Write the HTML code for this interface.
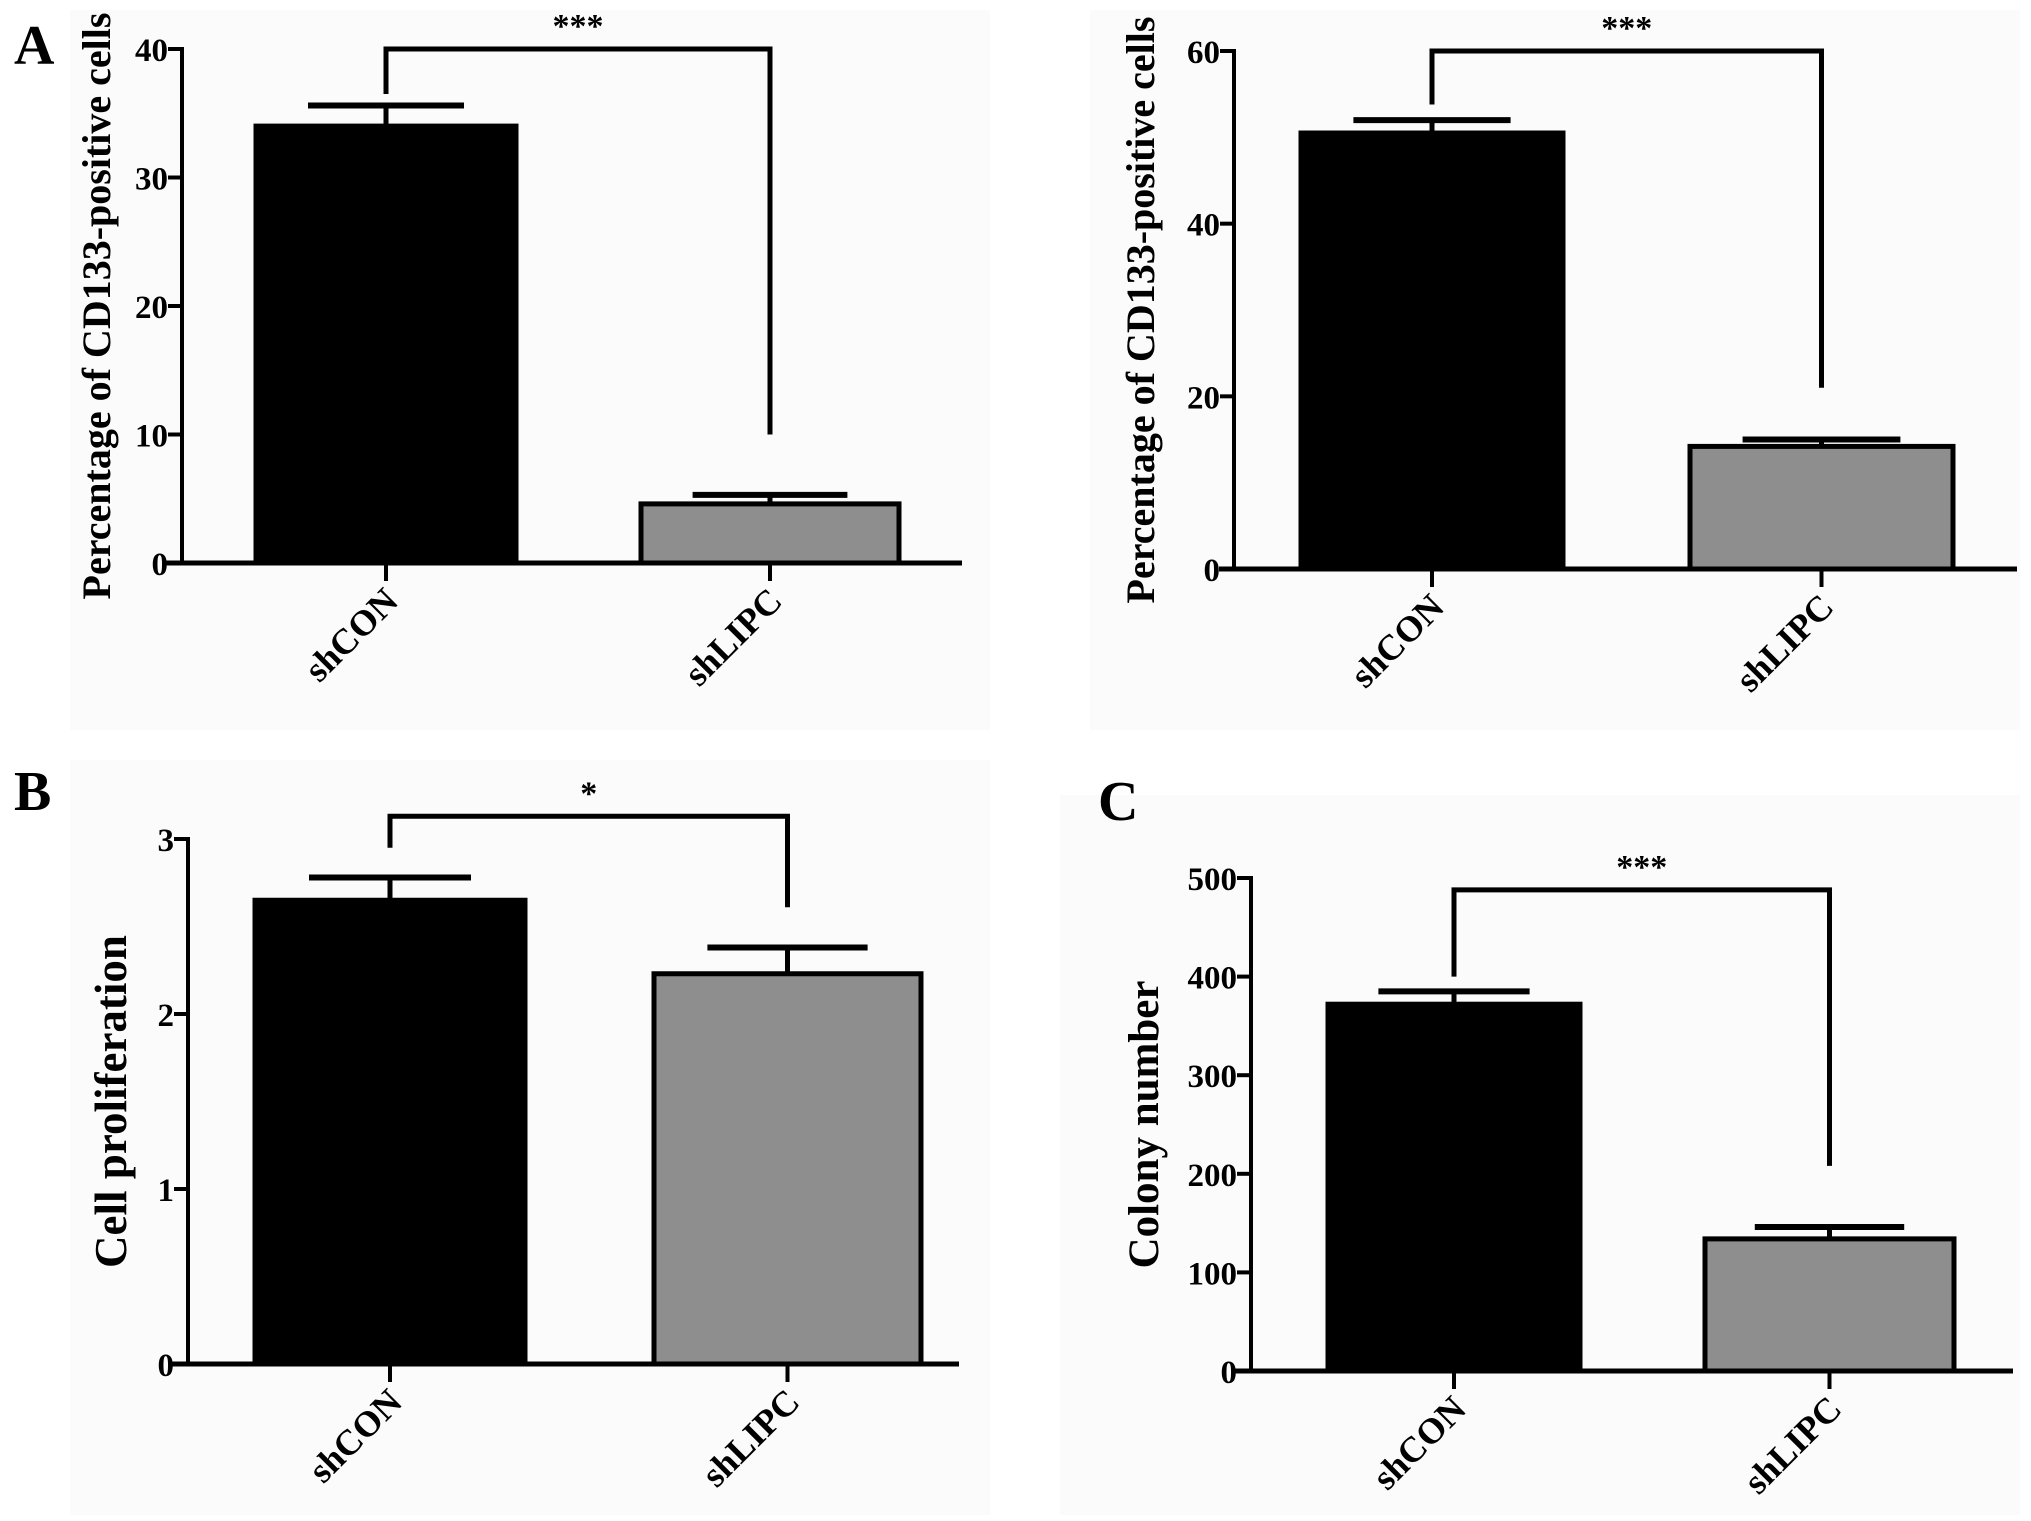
<!DOCTYPE html>
<html><head><meta charset="utf-8"><style>
html,body{margin:0;padding:0;background:#fff}
svg{display:block}
text{font-family:"Liberation Serif",serif;font-weight:bold;fill:#000}
</style></head><body>
<svg id="fig" width="2031" height="1521" viewBox="0 0 2031 1521">
<rect x="0" y="0" width="2031" height="1521" fill="#fff"/>
<rect x="70" y="10" width="920" height="720" fill="#fbfbfb"/>
<rect x="1090" y="10" width="930" height="720" fill="#fbfbfb"/>
<rect x="70" y="760" width="920" height="755" fill="#fbfbfb"/>
<rect x="1060" y="795" width="960" height="720" fill="#fbfbfb"/>
<text x="14" y="64" font-size="56">A</text>
<text x="14" y="810" font-size="56">B</text>
<text x="1098" y="820" font-size="56">C</text>
</svg>
<script>
// Panel A left
const aLeftCategories = ["shCON", "shLIPC"];
const aLeftValues = [34, 4.6];
const aLeftErrors = [35.6, 5.3];
const aLeftTicks = [0, 10, 20, 30, 40];
const aLeftBracket = [40, 36.5, 10];
// Panel A right
const aRightCategories = ["shCON", "shLIPC"];
const aRightValues = [50.5, 14.2];
const aRightErrors = [52, 15];
const aRightTicks = [0, 20, 40, 60];
const aRightBracket = [60, 53.8, 21];
// Panel B
const bCategories = ["shCON", "shLIPC"];
const bValues = [2.65, 2.23];
const bErrors = [2.78, 2.38];
const bTicks = [0, 1, 2, 3];
const bBracket = [3.13, 2.95, 2.61];
// Panel C
const cCategories = ["shCON", "shLIPC"];
const cValues = [372, 134];
const cErrors = [385, 146];
const cTicks = [0, 100, 200, 300, 400, 500];
const cBracket = [488, 400, 208];

const NS = "http://www.w3.org/2000/svg";
const svg = document.getElementById("fig");
function mk(tag, attrs, parent) {
  const e = document.createElementNS(NS, tag);
  for (const k in attrs) e.setAttribute(k, attrs[k]);
  (parent || svg).appendChild(e);
  return e;
}
const fills = ["#000", "#8e8e8e"];

function panel(p, cats, vals, errs, ticks, br) {
  const g = mk("g", {});
  
  
  const ymax = ticks[ticks.length - 1];
  const Y = v => p.y0 - (v / ymax) * (p.y0 - p.yTop);
  cats.forEach((c, i) => {
    const [x1, x2] = p.bars[i];
    const r = mk("rect", {x: x1, y: Y(vals[i]), width: x2 - x1, height: p.y0 - Y(vals[i]), fill: fills[i], stroke: "#000", "stroke-width": 5}, g);
    
    
    const cx = (x1 + x2) / 2, hw = (x2 - x1) * 0.3;
    const e1 = mk("line", {x1: cx, x2: cx, y1: Y(vals[i]), y2: Y(errs[i]), stroke: "#000", "stroke-width": 5}, g);
    
    
    const e2 = mk("line", {x1: cx - hw, x2: cx + hw, y1: Y(errs[i]), y2: Y(errs[i]), stroke: "#000", "stroke-width": 6}, g);
    
    
    const t = mk("line", {x1: cx, x2: cx, y1: p.y0, y2: p.y0 + 18, stroke: "#000", "stroke-width": 4}, g);
    
    
    const lb = mk("text", {x: cx + 14, y: p.y0 + 40, "font-size": p.cfs, "text-anchor": "end", transform: `rotate(-45 ${cx + 14} ${p.y0 + 40})`}, g);
    lb.textContent = c;
    
    
  });
  const ax = mk("line", {x1: p.xAxis, x2: p.xAxis, y1: Y(ymax) - 2, y2: p.y0, stroke: "#000", "stroke-width": 4}, g);
  
  
  const xa = mk("line", {x1: p.xStart, x2: p.xEnd, y1: p.y0, y2: p.y0, stroke: "#000", "stroke-width": 5}, g);
  
  
  ticks.forEach(t => {
    const tl = mk("line", {x1: p.xAxis - 14, x2: p.xAxis, y1: Y(t), y2: Y(t), stroke: "#000", "stroke-width": 4}, g);
    
    
    const tx = mk("text", {x: p.xAxis - 14, y: Y(t) + 12, "font-size": p.fs, "text-anchor": "end"}, g);
    tx.textContent = t;
    
    
  });
  const ty = (p.y0 + Y(ymax)) / 2;
  const tt = mk("text", {x: p.titleX, y: ty, "font-size": p.tfs, "text-anchor": "middle", transform: `rotate(-90 ${p.titleX} ${ty})`}, g);
  tt.textContent = p.title;
  
  
  const lx = (p.bars[0][0] + p.bars[0][1]) / 2, rx = (p.bars[1][0] + p.bars[1][1]) / 2;
  const b = mk("polyline", {points: `${lx},${Y(br[1])} ${lx},${Y(br[0])} ${rx},${Y(br[0])} ${rx},${Y(br[2])}`, fill: "none", stroke: "#000", "stroke-width": 5}, g);
  
  
  const st = mk("text", {x: (lx + rx) / 2, y: Y(br[0]) - 12, "font-size": 34, "text-anchor": "middle"}, g);
  st.textContent = p.stars;
  
  
}

panel({name: "panel-a-left", y0: 563, yTop: 49, xAxis: 182, xStart: 166, xEnd: 962, bars: [[256, 516], [641, 899]], title: "Percentage of CD133-positive cells", titleX: 110, fs: 33, cfs: 36, tfs: 40, stars: "***"}, aLeftCategories, aLeftValues, aLeftErrors, aLeftTicks, aLeftBracket);
panel({name: "panel-a-right", y0: 569, yTop: 51, xAxis: 1234, xStart: 1219, xEnd: 2017, bars: [[1301, 1563], [1690, 1953]], title: "Percentage of CD133-positive cells", titleX: 1154, fs: 33, cfs: 36, tfs: 40, stars: "***"}, aRightCategories, aRightValues, aRightErrors, aRightTicks, aRightBracket);
panel({name: "panel-b", y0: 1364, yTop: 839, xAxis: 188, xStart: 171, xEnd: 959, bars: [[255, 525], [654, 921]], title: "Cell proliferation", titleX: 126, fs: 33, cfs: 36, tfs: 45, stars: "*"}, bCategories, bValues, bErrors, bTicks, bBracket);
panel({name: "panel-c", y0: 1371, yTop: 878, xAxis: 1251, xStart: 1234, xEnd: 2013, bars: [[1328, 1580], [1705, 1954]], title: "Colony number", titleX: 1158, fs: 33, cfs: 36, tfs: 43, stars: "***"}, cCategories, cValues, cErrors, cTicks, cBracket);
</script>
</body></html>
